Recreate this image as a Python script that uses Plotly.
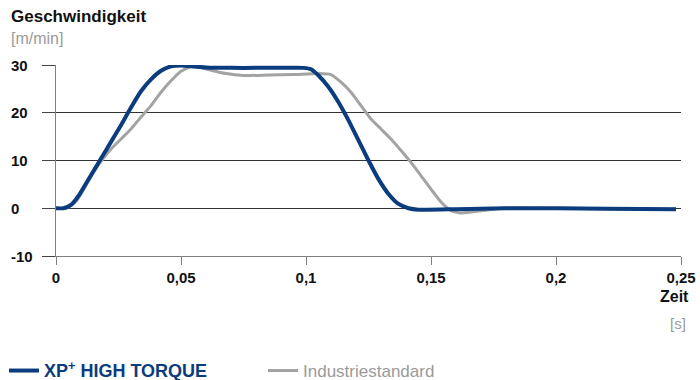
import plotly.graph_objects as go

# Data
t_xp = [0, 0.003, 0.006, 0.009, 0.012, 0.015, 0.018, 0.022, 0.026, 0.030, 0.034, 0.038,
        0.042, 0.046, 0.050, 0.055, 0.060, 0.070, 0.080, 0.090, 0.099, 0.102, 0.105, 0.109,
        0.113, 0.117, 0.121, 0.125, 0.129, 0.133, 0.137, 0.141, 0.145, 0.160, 0.180, 0.200,
        0.220, 0.248]
v_xp = [0, 0, 0.7, 2.6, 5.2, 7.8, 10.4, 13.9, 17.4, 21.1, 24.5, 27.0,
        28.8, 29.7, 29.9, 29.7, 29.5, 29.4, 29.4, 29.4, 29.4, 29.1, 27.8, 25.4,
        22.2, 18.4, 14.2, 10.0, 6.1, 3.0, 0.9, 0.0, -0.3, -0.2, 0.0, 0.0,
        -0.1, -0.2]

t_std = [0, 0.004, 0.008, 0.012, 0.015, 0.018, 0.022, 0.026, 0.030, 0.034, 0.038, 0.042,
         0.046, 0.050, 0.054, 0.057, 0.062, 0.068, 0.075, 0.085, 0.095, 0.105, 0.110,
         0.114, 0.118, 0.122, 0.126, 0.130, 0.134, 0.138, 0.142, 0.146, 0.150, 0.154,
         0.158, 0.162, 0.166, 0.172, 0.178, 0.200, 0.248]
v_std = [0, 0, 1.4, 4.8, 7.5, 9.8, 12.4, 14.5, 16.6, 19.1, 21.5, 24.3,
         26.7, 28.7, 29.7, 29.6, 28.9, 28.2, 27.8, 27.9, 28.0, 28.2, 28.0,
         26.4, 24.3, 21.5, 18.7, 16.6, 14.5, 12.1, 9.6, 6.8, 4.0, 1.3,
         -0.5, -1.0, -0.8, -0.4, 0.0, 0.0, -0.2]

x_ticks = [0, 0.05, 0.1, 0.15, 0.2, 0.25]
x_tick_labels = ["0", "0,05", "0,1", "0,15", "0,2", "0,25"]
y_ticks = [-10, 0, 10, 20, 30]
y_tick_labels = ["-10", "0", "10", "20", "30"]

name_xp = "<span style='color:#0b3c7d;font-size:18px'><b>XP<sup>+</sup> HIGH TORQUE</b></span>"
name_std = "<span style='color:#9a9a9a'>Industriestandard</span>"

BLUE = "#0b3c7d"
GRAY = "#a3a3a3"
FONT = "Liberation Sans"

fig = go.Figure()
fig.add_trace(go.Scatter(x=t_std, y=v_std, mode="lines", name=name_std,
                         line=dict(color=GRAY, width=3, shape="spline", smoothing=0.5),
                         legendrank=2))
fig.add_trace(go.Scatter(x=t_xp, y=v_xp, mode="lines", name=name_xp,
                         line=dict(color=BLUE, width=4, shape="spline", smoothing=0.5),
                         legendrank=1))

L, R, T, B = 56, 19, 65, 124
W, H = 700, 380
pw = W - L - R
ph = H - T - B

def px_x(px):
    return (px - L) / pw

def px_y(py):
    return (H - B - py) / ph

annotations = []
for v, lab in zip(y_ticks, y_tick_labels):
    annotations.append(dict(x=px_x(9), xref="paper", y=v, yref="y", text="<b>%s</b>" % lab,
                            showarrow=False, xanchor="left", yanchor="middle",
                            font=dict(family=FONT, size=15, color="#111")))
annotations += [
    dict(x=px_x(9), xref="paper", y=px_y(17), yref="paper", text="<b>Geschwindigkeit</b>",
         showarrow=False, xanchor="left", yanchor="middle",
         font=dict(family=FONT, size=17, color="#111")),
    dict(x=px_x(9), xref="paper", y=px_y(38), yref="paper", text="[m/min]",
         showarrow=False, xanchor="left", yanchor="middle",
         font=dict(family=FONT, size=16, color="#9a9a9a")),
    dict(x=px_x(691), xref="paper", y=px_y(296), yref="paper", text="<b>Zeit</b>",
         showarrow=False, xanchor="right", yanchor="middle",
         font=dict(family=FONT, size=16, color="#111")),
    dict(x=px_x(688), xref="paper", y=px_y(323), yref="paper", text="[s]",
         showarrow=False, xanchor="right", yanchor="middle",
         font=dict(family=FONT, size=15, color="#9a9a9a")),
]

fig.update_layout(
    width=W, height=H,
    margin=dict(l=L, r=R, t=T, b=B, autoexpand=False),
    paper_bgcolor="white", plot_bgcolor="white",
    font=dict(family=FONT, size=15, color="#111"),
    showlegend=True,
    legend=dict(orientation="h", x=px_x(4), xanchor="left", y=px_y(371), yanchor="middle",
                entrywidth=214, entrywidthmode="pixels",
                font=dict(family=FONT, size=17), bgcolor="rgba(0,0,0,0)",
                tracegroupgap=0, itemwidth=30),
    annotations=annotations,
    xaxis=dict(range=[0, 0.25], tickvals=x_ticks, ticktext=["<b>%s</b>" % s for s in x_tick_labels],
               showgrid=False, zeroline=False, showline=True, linecolor="#808080", linewidth=1,
               ticks="outside", ticklen=8, tickcolor="#808080", tickwidth=1,
               tickfont=dict(family=FONT, size=15, color="#111")),
    yaxis=dict(range=[-10, 30], tickvals=y_ticks, showticklabels=False,
               showgrid=True, gridcolor="#333", gridwidth=1, zeroline=False,
               showline=True, linecolor="#808080", linewidth=1,
               ticks="outside", ticklen=13, tickcolor="#444", tickwidth=1),
)

fig.write_html("out.html", config={"displayModeBar": False},
               post_script="document.body.style.margin='0px';")
